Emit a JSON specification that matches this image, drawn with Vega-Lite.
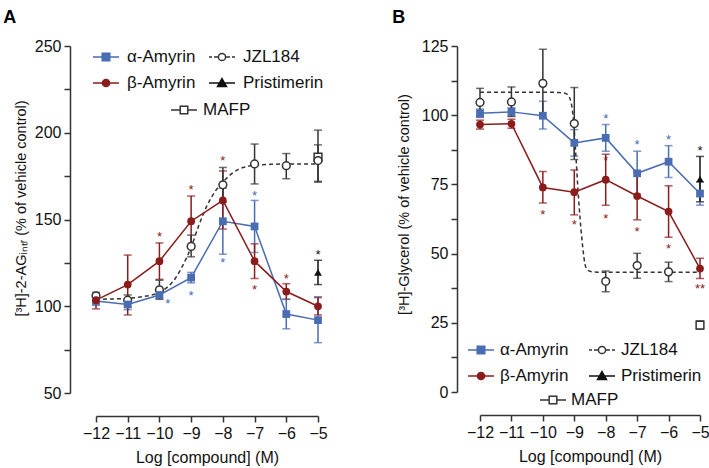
{
  "$schema": "https://vega.github.io/schema/vega-lite/v6.json",
  "background": "white",
  "padding": {"left": 3, "top": 9, "right": 1, "bottom": 3},
  "config": {
    "font": "Liberation Sans",
    "view": {"stroke": null},
    "axis": {"grid": false, "domainColor": "#333", "tickColor": "#333", "domainWidth": 1.5, "tickWidth": 1.5, "tickSize": 6, "labelFontSize": 16, "labelColor": "#111", "titleFontSize": 16, "titleFontWeight": "normal", "titleColor": "#111", "labelPadding": 3, "labelOverlap": false, "labelFlush": false},
    "legend": {"orient": "none", "title": null, "labelFontSize": 17, "labelColor": "#111", "symbolSize": 400, "symbolStrokeWidth": 1.5, "symbolOpacity": 1, "labelOffset": 10, "rowPadding": 7, "columnPadding": 13, "padding": 0}
  },
  "datasets": {
    "A": [
      {"s": "α-Amyrin", "x": -12, "y": 103, "lo": 100.5, "hi": 105.5},
      {"s": "α-Amyrin", "x": -11, "y": 101, "lo": 98, "hi": 104},
      {"s": "α-Amyrin", "x": -10, "y": 106.5, "lo": 104.5, "hi": 108.5},
      {"s": "α-Amyrin", "x": -9, "y": 116.5, "lo": 113.5, "hi": 119.5},
      {"s": "α-Amyrin", "x": -8, "y": 149, "lo": 130, "hi": 168},
      {"s": "α-Amyrin", "x": -7, "y": 146, "lo": 131, "hi": 161},
      {"s": "α-Amyrin", "x": -6, "y": 95.5, "lo": 87, "hi": 104},
      {"s": "α-Amyrin", "x": -5, "y": 92, "lo": 79, "hi": 105.5},
      {"s": "β-Amyrin", "x": -12, "y": 103.5, "lo": 98.5, "hi": 106.5},
      {"s": "β-Amyrin", "x": -11, "y": 112.5, "lo": 95, "hi": 129.5},
      {"s": "β-Amyrin", "x": -10, "y": 126, "lo": 115.5, "hi": 136.5},
      {"s": "β-Amyrin", "x": -9, "y": 149, "lo": 135, "hi": 163.5},
      {"s": "β-Amyrin", "x": -8, "y": 161, "lo": 144.5, "hi": 178},
      {"s": "β-Amyrin", "x": -7, "y": 126, "lo": 116, "hi": 136},
      {"s": "β-Amyrin", "x": -6, "y": 108.5, "lo": 104, "hi": 113},
      {"s": "β-Amyrin", "x": -5, "y": 100, "lo": 95, "hi": 105},
      {"s": "JZL184", "x": -12, "y": 106, "lo": 103, "hi": 108},
      {"s": "JZL184", "x": -11, "y": 103.5, "lo": 99.5, "hi": 106.5},
      {"s": "JZL184", "x": -10, "y": 109.5, "lo": 104, "hi": 115},
      {"s": "JZL184", "x": -9, "y": 134.5, "lo": 128.5, "hi": 141},
      {"s": "JZL184", "x": -8, "y": 170, "lo": 160, "hi": 180},
      {"s": "JZL184", "x": -7, "y": 182, "lo": 170.5, "hi": 193.5},
      {"s": "JZL184", "x": -6, "y": 181, "lo": 173.5, "hi": 188},
      {"s": "JZL184", "x": -5, "y": 184, "lo": 172, "hi": 193},
      {"s": "Pristimerin", "x": -5, "y": 119.5, "lo": 112.5, "hi": 126.5},
      {"s": "MAFP", "x": -5, "y": 186, "lo": 171.5, "hi": 201.5}
    ],
    "curveA": [
      {"x": -12, "y": 104}, {"x": -11.5, "y": 104.2}, {"x": -11, "y": 104.6}, {"x": -10.5, "y": 105.6},
      {"x": -10, "y": 108}, {"x": -9.75, "y": 111}, {"x": -9.5, "y": 116}, {"x": -9.25, "y": 124},
      {"x": -9, "y": 134}, {"x": -8.75, "y": 147}, {"x": -8.5, "y": 158}, {"x": -8.25, "y": 166},
      {"x": -8, "y": 171.5}, {"x": -7.75, "y": 176}, {"x": -7.5, "y": 179}, {"x": -7.25, "y": 180.5},
      {"x": -7, "y": 181.3}, {"x": -6.5, "y": 181.8}, {"x": -6, "y": 182}, {"x": -5.5, "y": 182}, {"x": -5, "y": 182}
    ],
    "starsA": [
      {"s": "β-Amyrin", "x": -10, "y": 141.8, "t": "*"},
      {"s": "β-Amyrin", "x": -9, "y": 168.7, "t": "*"},
      {"s": "β-Amyrin", "x": -8, "y": 185.6, "t": "*"},
      {"s": "β-Amyrin", "x": -7, "y": 111, "t": "*"},
      {"s": "β-Amyrin", "x": -6, "y": 117.5, "t": "*"},
      {"s": "α-Amyrin", "x": -9.74, "y": 103.3, "t": "*"},
      {"s": "α-Amyrin", "x": -9, "y": 107.5, "t": "*"},
      {"s": "α-Amyrin", "x": -8, "y": 126.4, "t": "*"},
      {"s": "α-Amyrin", "x": -7, "y": 165.4, "t": "*"},
      {"s": "Pristimerin", "x": -5, "y": 131.2, "t": "*"}
    ],
    "B": [
      {"s": "α-Amyrin", "x": -12, "y": 100.7, "lo": 99.2, "hi": 102.2},
      {"s": "α-Amyrin", "x": -11, "y": 101.2, "lo": 99.7, "hi": 102.7},
      {"s": "α-Amyrin", "x": -10, "y": 99.8, "lo": 95, "hi": 105},
      {"s": "α-Amyrin", "x": -9, "y": 90, "lo": 85.2, "hi": 94.8},
      {"s": "α-Amyrin", "x": -8, "y": 91.8, "lo": 87, "hi": 96.6},
      {"s": "α-Amyrin", "x": -7, "y": 79, "lo": 71.5, "hi": 87},
      {"s": "α-Amyrin", "x": -6, "y": 83.2, "lo": 77.5, "hi": 89},
      {"s": "α-Amyrin", "x": -5, "y": 71.7, "lo": 67.5, "hi": 76},
      {"s": "β-Amyrin", "x": -12, "y": 96.6, "lo": 95, "hi": 98.2},
      {"s": "β-Amyrin", "x": -11, "y": 96.9, "lo": 95.3, "hi": 98.5},
      {"s": "β-Amyrin", "x": -10, "y": 73.9, "lo": 68.3, "hi": 79.7},
      {"s": "β-Amyrin", "x": -9, "y": 72.2, "lo": 64, "hi": 80.2},
      {"s": "β-Amyrin", "x": -8, "y": 76.7, "lo": 67.5, "hi": 85.9},
      {"s": "β-Amyrin", "x": -7, "y": 70.8, "lo": 62.2, "hi": 79.4},
      {"s": "β-Amyrin", "x": -6, "y": 65.2, "lo": 55.9, "hi": 74.5},
      {"s": "β-Amyrin", "x": -5, "y": 44.6, "lo": 41, "hi": 48.3},
      {"s": "JZL184", "x": -12, "y": 104.6, "lo": 99.5, "hi": 109.7},
      {"s": "JZL184", "x": -11, "y": 104.8, "lo": 99.5, "hi": 110.2},
      {"s": "JZL184", "x": -10, "y": 111.5, "lo": 99.2, "hi": 123.8},
      {"s": "JZL184", "x": -9, "y": 97, "lo": 84, "hi": 110},
      {"s": "JZL184", "x": -8, "y": 40, "lo": 36.2, "hi": 43.7},
      {"s": "JZL184", "x": -7, "y": 45.7, "lo": 41.1, "hi": 50.1},
      {"s": "JZL184", "x": -6, "y": 43.4, "lo": 39.9, "hi": 46.9},
      {"s": "Pristimerin", "x": -5, "y": 76.9, "lo": 68.7, "hi": 85.1},
      {"s": "MAFP", "x": -5, "y": 24.2, "lo": 22.7, "hi": 25.7}
    ],
    "curveB": [
      {"x": -12, "y": 108.3}, {"x": -11, "y": 108.3}, {"x": -10, "y": 108.3}, {"x": -9.5, "y": 108.2},
      {"x": -9.32, "y": 108}, {"x": -9.21, "y": 107.4}, {"x": -9.1, "y": 104.5}, {"x": -9.02, "y": 97.5},
      {"x": -8.95, "y": 85.5}, {"x": -8.87, "y": 71}, {"x": -8.76, "y": 55.5}, {"x": -8.63, "y": 45},
      {"x": -8.5, "y": 43.6}, {"x": -8.25, "y": 43.3}, {"x": -8, "y": 43.3}, {"x": -7, "y": 43.3},
      {"x": -6, "y": 43.3}, {"x": -5, "y": 43.3}
    ],
    "starsB": [
      {"s": "α-Amyrin", "x": -8, "y": 99.8, "t": "*"},
      {"s": "α-Amyrin", "x": -7, "y": 90.4, "t": "*"},
      {"s": "α-Amyrin", "x": -6, "y": 92.3, "t": "*"},
      {"s": "β-Amyrin", "x": -10, "y": 64.9, "t": "*"},
      {"s": "β-Amyrin", "x": -9, "y": 61.3, "t": "*"},
      {"s": "β-Amyrin", "x": -8, "y": 84.4, "t": "*"},
      {"s": "β-Amyrin", "x": -8, "y": 63.7, "t": "*"},
      {"s": "β-Amyrin", "x": -7, "y": 58.9, "t": "*"},
      {"s": "β-Amyrin", "x": -6, "y": 52.9, "t": "*"},
      {"s": "β-Amyrin", "x": -5, "y": 38.4, "t": "**"},
      {"s": "Pristimerin", "x": -5, "y": 88.3, "t": "*"}
    ],
    "leg1": [{"s": "α-Amyrin"}, {"s": "β-Amyrin"}, {"s": "JZL184"}, {"s": "Pristimerin"}],
    "leg2": [{"s": "MAFP"}]
  },
  "spacing": 64,
  "resolve": {"scale": {"x": "independent", "y": "independent"}},
  "hconcat": [
    {
      "width": 222, "height": 347,
      "title": {"text": "A", "anchor": "start", "frame": "bounds", "fontSize": 18, "fontWeight": "bold", "offset": 11, "dx": -10, "color": "#000"},
      "data": {"name": "A"},
      "encoding": {
        "x": {"field": "x", "type": "quantitative", "scale": {"domain": [-12, -5], "nice": false, "zero": false},
          "axis": {"values": [-12, -11, -10, -9, -8, -7, -6, -5], "offset": 23, "title": "Log [compound] (M)", "titlePadding": 8}},
        "y": {"field": "y", "type": "quantitative", "scale": {"domain": [50, 250], "nice": false, "zero": false},
          "axis": {"values": [50, 75, 100, 125, 150, 175, 200, 225, 250], "labelExpr": "datum.value % 50 === 0 ? datum.label : ''", "offset": 26, "title": "[³H]-2-AGᵢₙₜᵣ (% of vehicle control)", "titleFontSize": 14.5, "titlePadding": 6, "titleY": 162}}
      },
      "layer": [
        {"data": {"values": [{}]}, "mark": {"type": "rule", "strokeDash": [4, 3], "color": "#666", "strokeWidth": 1.5},
          "encoding": {"x": {"datum": -12.8}, "x2": {"datum": -4.75}, "y": {"datum": 100}}},
        {"data": {"name": "curveA"}, "mark": {"type": "line", "strokeDash": [4, 3], "color": "#333", "strokeWidth": 1.5, "interpolate": "monotone"}},
        {"transform": [{"filter": "datum.s === 'α-Amyrin' || datum.s === 'β-Amyrin'"}], "mark": {"type": "line", "strokeWidth": 1.5},
          "encoding": {"color": {"field": "s", "type": "nominal", "scale": {"domain": ["α-Amyrin", "β-Amyrin", "JZL184", "Pristimerin", "MAFP"], "range": ["#4a6cb3", "#8b1c1c", "#333333", "#111111", "#333333"]}, "legend": null}}},
        {"mark": {"type": "errorbar", "ticks": true, "size": 8, "thickness": 1.5},
          "encoding": {"y": {"field": "lo", "type": "quantitative"}, "y2": {"field": "hi"}, "color": {"field": "s", "type": "nominal", "legend": null}}},
        {"transform": [{"filter": "datum.s === 'MAFP'"}], "mark": {"type": "point", "shape": "square", "filled": true, "fill": "white", "stroke": "#333", "strokeWidth": 1.5, "size": 60, "opacity": 1}},
        {"transform": [{"filter": "datum.s === 'JZL184'"}], "mark": {"type": "point", "shape": "circle", "filled": true, "fill": "white", "stroke": "#333", "strokeWidth": 1.5, "size": 60, "opacity": 1}},
        {"transform": [{"filter": "datum.s === 'α-Amyrin'"}], "mark": {"type": "point", "shape": "square", "filled": true, "fill": "#4a6cb3", "size": 60, "opacity": 1}},
        {"transform": [{"filter": "datum.s === 'β-Amyrin'"}], "mark": {"type": "point", "shape": "circle", "filled": true, "fill": "#8b1c1c", "size": 60, "opacity": 1}},
        {"transform": [{"filter": "datum.s === 'Pristimerin'"}], "mark": {"type": "point", "shape": "triangle-up", "filled": true, "fill": "#111", "size": 60, "opacity": 1}},
        {"data": {"name": "starsA"}, "mark": {"type": "text", "fontSize": 13, "baseline": "middle", "dy": 3},
          "encoding": {"text": {"field": "t"}, "color": {"field": "s", "type": "nominal", "legend": null}}},
        {"data": {"name": "leg1"}, "mark": {"type": "point", "opacity": 0, "filled": true},
          "encoding": {"x": {"datum": -12}, "y": {"datum": 100},
            "shape": {"field": "s", "type": "nominal", "scale": {"domain": ["α-Amyrin", "β-Amyrin", "JZL184", "Pristimerin"], "range": ["M-1.3,0H-0.38M0.38,0H1.3M-0.38,-0.38H0.38V0.38H-0.38Z", "M-1.3,0H-0.36M0.36,0H1.3M0.36,0A0.36,0.36,0,1,1,-0.36,0A0.36,0.36,0,1,1,0.36,0Z", "M-1.3,0H-1.0M-0.8,0H-0.36M0.36,0H0.8M1.0,0H1.3M0.36,0A0.36,0.36,0,1,1,-0.36,0A0.36,0.36,0,1,1,0.36,0Z", "M-1.3,0H1.3M0,-0.45L0.45,0.35H-0.45Z"]}, "legend": {"columns": 2, "legendX": -1, "legendY": 0, "columnPadding": 10}},
            "fill": {"field": "s", "type": "nominal", "scale": {"domain": ["α-Amyrin", "β-Amyrin", "JZL184", "Pristimerin"], "range": ["#4a6cb3", "#8b1c1c", "white", "#111"]}, "legend": {"columns": 2, "legendX": -1, "legendY": 0, "columnPadding": 10}},
            "stroke": {"field": "s", "type": "nominal", "scale": {"domain": ["α-Amyrin", "β-Amyrin", "JZL184", "Pristimerin"], "range": ["#4a6cb3", "#8b1c1c", "#333", "#111"]}, "legend": {"columns": 2, "legendX": -1, "legendY": 0, "columnPadding": 10}}}},
        {"data": {"name": "leg2"}, "mark": {"type": "point", "opacity": 0, "filled": true},
          "encoding": {"x": {"datum": -12}, "y": {"datum": 100},
            "shape": {"field": "s", "type": "nominal", "scale": {"domain": ["MAFP"], "range": ["M-1.3,0H-0.38M0.38,0H1.3M-0.38,-0.38H0.38V0.38H-0.38Z"]}, "legend": {"legendX": 77, "legendY": 53, "labelOffset": 8}},
            "fill": {"field": "s", "type": "nominal", "scale": {"domain": ["MAFP"], "range": ["white"]}, "legend": {"legendX": 77, "legendY": 53, "labelOffset": 8}},
            "stroke": {"field": "s", "type": "nominal", "scale": {"domain": ["MAFP"], "range": ["#333"]}, "legend": {"legendX": 77, "legendY": 53, "labelOffset": 8}}}}
      ],
      "resolve": {"scale": {"shape": "independent", "fill": "independent", "stroke": "independent"}}
    },
    {
      "width": 220, "height": 346,
      "title": {"text": "B", "anchor": "start", "frame": "bounds", "fontSize": 18, "fontWeight": "bold", "offset": 11, "dx": -4, "color": "#000"},
      "data": {"name": "B"},
      "encoding": {
        "x": {"field": "x", "type": "quantitative", "scale": {"domain": [-12, -5], "nice": false, "zero": false},
          "axis": {"values": [-12, -11, -10, -9, -8, -7, -6, -5], "offset": 23, "title": "Log [compound] (M)", "titlePadding": 8}},
        "y": {"field": "y", "type": "quantitative", "scale": {"domain": [0, 125], "nice": false, "zero": false},
          "axis": {"values": [0, 12.5, 25, 37.5, 50, 62.5, 75, 87.5, 100, 112.5, 125], "labelExpr": "datum.value % 25 === 0 ? datum.label : ''", "offset": 23, "title": "[³H]-Glycerol (% of vehicle control)", "titleFontSize": 14.5, "titlePadding": 10, "titleY": 158}}
      },
      "layer": [
        {"data": {"name": "curveB"}, "mark": {"type": "line", "strokeDash": [4, 3], "color": "#333", "strokeWidth": 1.5, "interpolate": "monotone"}},
        {"transform": [{"filter": "datum.s === 'α-Amyrin' || datum.s === 'β-Amyrin'"}], "mark": {"type": "line", "strokeWidth": 1.5},
          "encoding": {"color": {"field": "s", "type": "nominal", "scale": {"domain": ["α-Amyrin", "β-Amyrin", "JZL184", "Pristimerin", "MAFP"], "range": ["#4a6cb3", "#8b1c1c", "#333333", "#111111", "#333333"]}, "legend": null}}},
        {"mark": {"type": "errorbar", "ticks": true, "size": 8, "thickness": 1.5},
          "encoding": {"y": {"field": "lo", "type": "quantitative"}, "y2": {"field": "hi"}, "color": {"field": "s", "type": "nominal", "legend": null}}},
        {"transform": [{"filter": "datum.s === 'MAFP'"}], "mark": {"type": "point", "shape": "square", "filled": true, "fill": "white", "stroke": "#333", "strokeWidth": 1.5, "size": 60, "opacity": 1}},
        {"transform": [{"filter": "datum.s === 'JZL184'"}], "mark": {"type": "point", "shape": "circle", "filled": true, "fill": "white", "stroke": "#333", "strokeWidth": 1.5, "size": 60, "opacity": 1}},
        {"transform": [{"filter": "datum.s === 'α-Amyrin'"}], "mark": {"type": "point", "shape": "square", "filled": true, "fill": "#4a6cb3", "size": 60, "opacity": 1}},
        {"transform": [{"filter": "datum.s === 'β-Amyrin'"}], "mark": {"type": "point", "shape": "circle", "filled": true, "fill": "#8b1c1c", "size": 60, "opacity": 1}},
        {"transform": [{"filter": "datum.s === 'Pristimerin'"}], "mark": {"type": "point", "shape": "triangle-up", "filled": true, "fill": "#111", "size": 60, "opacity": 1}},
        {"data": {"name": "starsB"}, "mark": {"type": "text", "fontSize": 13, "baseline": "middle", "dy": 3},
          "encoding": {"text": {"field": "t"}, "color": {"field": "s", "type": "nominal", "legend": null}}},
        {"data": {"name": "leg1"}, "mark": {"type": "point", "opacity": 0, "filled": true},
          "encoding": {"x": {"datum": -12}, "y": {"datum": 100},
            "shape": {"field": "s", "type": "nominal", "scale": {"domain": ["α-Amyrin", "β-Amyrin", "JZL184", "Pristimerin"], "range": ["M-1.3,0H-0.38M0.38,0H1.3M-0.38,-0.38H0.38V0.38H-0.38Z", "M-1.3,0H-0.36M0.36,0H1.3M0.36,0A0.36,0.36,0,1,1,-0.36,0A0.36,0.36,0,1,1,0.36,0Z", "M-1.3,0H-1.0M-0.8,0H-0.36M0.36,0H0.8M1.0,0H1.3M0.36,0A0.36,0.36,0,1,1,-0.36,0A0.36,0.36,0,1,1,0.36,0Z", "M-1.3,0H1.3M0,-0.45L0.45,0.35H-0.45Z"]}, "legend": {"columns": 2, "legendX": -10, "legendY": 293, "labelOffset": 8, "columnPadding": 17}},
            "fill": {"field": "s", "type": "nominal", "scale": {"domain": ["α-Amyrin", "β-Amyrin", "JZL184", "Pristimerin"], "range": ["#4a6cb3", "#8b1c1c", "white", "#111"]}, "legend": {"columns": 2, "legendX": -10, "legendY": 293, "labelOffset": 8, "columnPadding": 17}},
            "stroke": {"field": "s", "type": "nominal", "scale": {"domain": ["α-Amyrin", "β-Amyrin", "JZL184", "Pristimerin"], "range": ["#4a6cb3", "#8b1c1c", "#333", "#111"]}, "legend": {"columns": 2, "legendX": -10, "legendY": 293, "labelOffset": 8, "columnPadding": 17}}}},
        {"data": {"name": "leg2"}, "mark": {"type": "point", "opacity": 0, "filled": true},
          "encoding": {"x": {"datum": -12}, "y": {"datum": 100},
            "shape": {"field": "s", "type": "nominal", "scale": {"domain": ["MAFP"], "range": ["M-1.3,0H-0.38M0.38,0H1.3M-0.38,-0.38H0.38V0.38H-0.38Z"]}, "legend": {"legendX": 62, "legendY": 343, "labelOffset": 7}},
            "fill": {"field": "s", "type": "nominal", "scale": {"domain": ["MAFP"], "range": ["white"]}, "legend": {"legendX": 62, "legendY": 343, "labelOffset": 7}},
            "stroke": {"field": "s", "type": "nominal", "scale": {"domain": ["MAFP"], "range": ["#333"]}, "legend": {"legendX": 62, "legendY": 343, "labelOffset": 7}}}}
      ],
      "resolve": {"scale": {"shape": "independent", "fill": "independent", "stroke": "independent"}}
    }
  ]
}
